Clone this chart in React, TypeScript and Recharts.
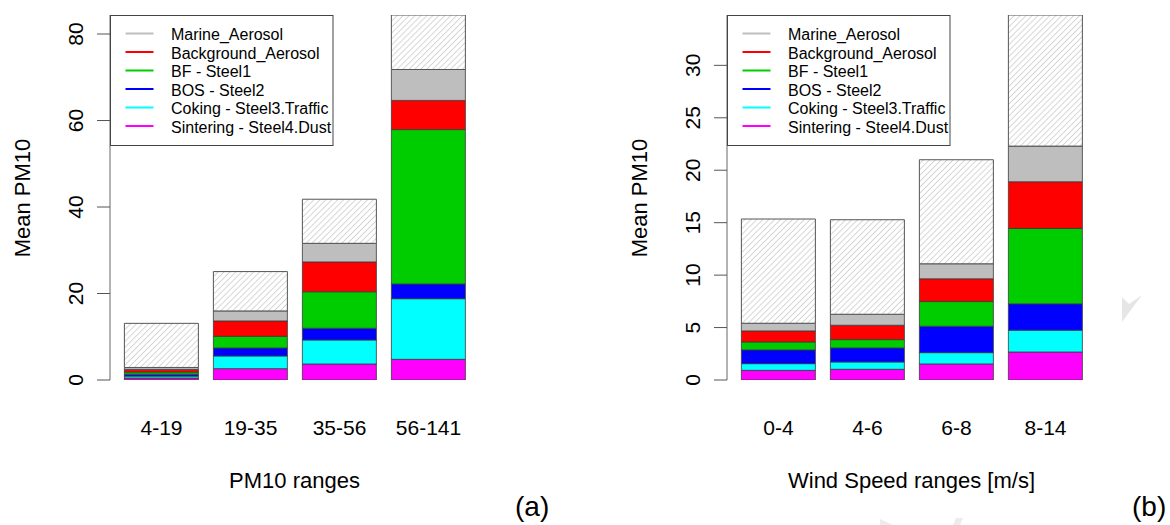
import React from 'react';
import { BarChart, Bar, XAxis, YAxis } from 'recharts';

// Panel (a): mean PM10 split by source, per PM10 range
const PM_RANGES = ['4-19', '19-35', '35-56', '56-141'];
const PM_SINTERING = [0.45, 2.62, 3.7, 4.78];
const PM_COKING = [0.45, 2.94, 5.56, 14.02];
const PM_BOS = [0.45, 1.84, 2.7, 3.4];
const PM_BF = [0.5, 2.7, 8.44, 35.7];
const PM_BACKGROUND = [0.6, 3.56, 6.9, 6.75];
const PM_MARINE = [0.45, 2.31, 4.3, 7.15];
const PM_UNEXPLAINED = [10.2, 9.1, 10.2, 12.6];
const PM_TICKS = [0, 20, 40, 60, 80];

// Panel (b): same split per wind speed range
const WIND_RANGES = ['0-4', '4-6', '6-8', '8-14'];
const WIND_SINTERING = [0.92, 1.02, 1.53, 2.67];
const WIND_COKING = [0.64, 0.7, 1.08, 2.08];
const WIND_BOS = [1.31, 1.34, 2.52, 2.51];
const WIND_BF = [0.76, 0.79, 2.35, 7.19];
const WIND_BACKGROUND = [1.05, 1.37, 2.17, 4.45];
const WIND_MARINE = [0.73, 1.05, 1.43, 3.4];
const WIND_UNEXPLAINED = [9.94, 9.01, 9.92, 12.5];
const WIND_TICKS = [0, 5, 10, 15, 20, 25, 30];

const SERIES = [
  { key: 'sintering', label: 'Sintering - Steel4.Dust', color: '#ff00ff' },
  { key: 'coking', label: 'Coking - Steel3.Traffic', color: '#00ffff' },
  { key: 'bos', label: 'BOS - Steel2', color: '#0000ff' },
  { key: 'bf', label: 'BF - Steel1', color: '#00cd00' },
  { key: 'background', label: 'Background_Aerosol', color: '#ff0000' },
  { key: 'marine', label: 'Marine_Aerosol', color: '#bebebe' },
];

const FONT = '"Liberation Sans", Arial, Helvetica, sans-serif';

function buildRows(categories: string[], cols: { [k: string]: number[] }) {
  return categories.map((range, i) => {
    const row: any = { range };
    Object.keys(cols).forEach(k => {
      row[k] = cols[k][i];
    });
    return row;
  });
}

const pmData = buildRows(PM_RANGES, {
  sintering: PM_SINTERING,
  coking: PM_COKING,
  bos: PM_BOS,
  bf: PM_BF,
  background: PM_BACKGROUND,
  marine: PM_MARINE,
  unexplained: PM_UNEXPLAINED,
});

const windData = buildRows(WIND_RANGES, {
  sintering: WIND_SINTERING,
  coking: WIND_COKING,
  bos: WIND_BOS,
  bf: WIND_BF,
  background: WIND_BACKGROUND,
  marine: WIND_MARINE,
  unexplained: WIND_UNEXPLAINED,
});

const XTick = (props: any) => (
  <text x={props.x} y={props.y + 55} textAnchor="middle" fontSize={21} fontFamily={FONT} fill="#000">
    {props.payload.value}
  </text>
);

const YTick = (props: any) => (
  <text
    x={props.x}
    y={props.y}
    transform={`rotate(-90, ${props.x}, ${props.y})`}
    textAnchor="middle"
    fontSize={21}
    fontFamily={FONT}
    fill="#000"
  >
    {props.payload.value}
  </text>
);

interface PanelProps {
  data: any[];
  yMax: number;
  ticks: number[];
  xTitle: string;
  tag: string;
  left: number;
}

function Panel({ data, yMax, ticks, xTitle, tag, left }: PanelProps) {
  // legend lists the sources top-down, reverse of the stacking order
  const legendItems = [...SERIES].reverse();
  return (
    <div style={{ position: 'absolute', left, top: 0, width: 553, height: 525 }}>
      <BarChart
        width={553}
        height={525}
        data={data}
        margin={{ top: 15, right: 80, bottom: 105, left: 0 }}
        barCategoryGap="8.3%"
      >
        <XAxis
          dataKey="range"
          height={40}
          padding={{ left: 7, right: 0 }}
          axisLine={false}
          tickLine={false}
          tickSize={0}
          tickMargin={0}
          tick={<XTick />}
          interval={0}
        />
        <YAxis
          width={110}
          domain={[0, yMax]}
          ticks={ticks}
          allowDataOverflow
          axisLine={{ stroke: '#666', strokeWidth: 1 }}
          tickLine={{ stroke: '#555', strokeWidth: 1 }}
          tickSize={13}
          tickMargin={14}
          tick={<YTick />}
        />
        {SERIES.map(s => (
          <Bar
            key={s.key}
            dataKey={s.key}
            stackId="src"
            fill={s.color}
            stroke="#3a3a3a"
            strokeWidth={0.8}
            isAnimationActive={false}
          />
        ))}
        <Bar
          dataKey="unexplained"
          stackId="src"
          fill="url(#hatch)"
          stroke="#555"
          strokeWidth={1}
          isAnimationActive={false}
        />
      </BarChart>
      <svg
        width={553}
        height={525}
        style={{ position: 'absolute', left: 0, top: 0, pointerEvents: 'none' }}
        fontFamily={FONT}
      >
        <rect x={110.5} y={15.5} width={222.5} height={130} fill="#fff" stroke="#444" strokeWidth={1} />
        {legendItems.map((s, i) => (
          <g key={s.key}>
            <line x1={125.5} x2={153.5} y1={33.5 + i * 18.5} y2={33.5 + i * 18.5} stroke={s.color} strokeWidth={2} />
            <text x={171} y={40 + i * 18.5} fontSize={16} fill="#000">
              {s.label}
            </text>
          </g>
        ))}
        <text
          x={30}
          y={198}
          transform="rotate(-90, 30, 198)"
          textAnchor="middle"
          fontSize={22}
          fill="#000"
        >
          Mean PM10
        </text>
        <text x={294.5} y={487.5} textAnchor="middle" fontSize={22} fill="#000">
          {xTitle}
        </text>
        <text x={515} y={516} fontSize={28} fill="#000">
          {tag}
        </text>
      </svg>
    </div>
  );
}

export default function App() {
  return (
    <div style={{ position: 'absolute', left: 0, top: 0, width: 1170, height: 525, background: '#fff', overflow: 'hidden' }}>
      <svg width={0} height={0} style={{ position: 'absolute' }}>
        <defs>
          <pattern id="hatch" width={4.2} height={4.2} patternUnits="userSpaceOnUse" patternTransform="rotate(45)">
            <rect width={4.2} height={4.2} fill="#fff" />
            <line x1={2.1} y1={0} x2={2.1} y2={4.2} stroke="#d2d2d2" strokeWidth={0.9} />
          </pattern>
        </defs>
      </svg>
      <Panel data={pmData} yMax={84.4} ticks={PM_TICKS} xTitle="PM10 ranges" tag="(a)" left={0} />
      <Panel data={windData} yMax={34.8} ticks={WIND_TICKS} xTitle="Wind Speed ranges [m/s]" tag="(b)" left={617} />
      {/* faint watermark marks at the right and bottom edges */}
      <svg width={1170} height={525} style={{ position: 'absolute', left: 0, top: 0, pointerEvents: 'none' }}>
        <polygon points="1122,297 1129,304 1142,295 1122,322" fill="#e6e6e6" />
        <polygon points="880,519 893,525 880,525" fill="#ececec" />
        <polygon points="956,518 963,518 960,525 953,525" fill="#ececec" />
      </svg>
    </div>
  );
}
